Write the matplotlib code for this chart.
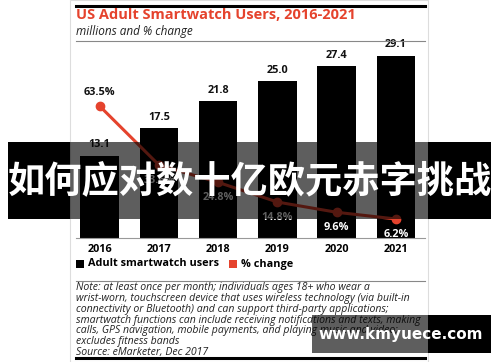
import matplotlib.pyplot as plt
import matplotlib.patches as mpatches

years = ['2016', '2017', '2018', '2019', '2020', '2021']
users = [13.1, 17.5, 21.8, 25.0, 27.4, 29.1]
pct_change = [63.5, 33.6, 24.8, 14.8, 9.6, 6.2]
pct_labels = ['63.5%', '33.6%', '24.8%', '14.8%', '9.6%', '6.2%']

title = 'US Adult Smartwatch Users, 2016-2021'
subtitle = 'millions and % change'
note = ('Note: at least once per month; individuals ages 18+ who wear a\n'
        'wrist-worn, touchscreen device that uses wireless technology (via built-in\n'
        'connectivity or Bluetooth) and can support third-party applications;\n'
        'smartwatch functions can include receiving notifications and texts, making\n'
        'calls, GPS navigation, mobile payments, and playing music and video;\n'
        'excludes fitness bands\n'
        'Source: eMarketer, Dec 2017')
banner = '如何应对数十亿欧元赤字挑战'
watermark = 'www.kmyuece.com'

RED = '#e5432d'
W, H = 500, 362
plt.rcParams['font.family'] = ['Open Sans', 'DejaVu Sans']


def fx(x):
    return x / W


def fy(y):
    return 1 - y / H


fig = plt.figure(figsize=(5, 3.62), dpi=100)
fig.patch.set_facecolor('white')

# card edges
fig.add_artist(mpatches.Rectangle((fx(70), 0), fx(358), 1, transform=fig.transFigure,
                                  facecolor='white', edgecolor='#dddddd', lw=0.8, zorder=-5))
# rules
fig.add_artist(plt.Line2D([fx(76), fx(425)], [fy(6), fy(6)], color='black', lw=2.2))
fig.add_artist(plt.Line2D([fx(76), fx(425)], [fy(41), fy(41)], color='#888888', lw=0.8))
fig.add_artist(plt.Line2D([fx(76), fx(425)], [fy(281), fy(281)], color='#888888', lw=0.8))
fig.add_artist(plt.Line2D([fx(76), fx(425)], [fy(358), fy(358)], color='black', lw=2.2))

fig.text(fx(76), fy(15), title, color=RED, fontsize=10.5, fontweight='bold', va='center')
fig.text(fx(76), fy(31), subtitle, color='#222222', fontsize=8.5, style='italic', va='center')

# main chart
ax = fig.add_axes([fx(76), fy(238), fx(425) - fx(76), (238 - 50) / H])
ax.patch.set_visible(False)
x = list(range(len(years)))
bars = ax.bar(x, users, width=0.65, color='black', zorder=2)
for xi, v in zip(x, users):
    ax.annotate(f'{v}', (xi, v), xytext=(0, 4), textcoords='offset points',
                ha='center', va='bottom', fontsize=7.8, fontweight='bold', color='#111111')
ax.set_xlim(-0.4, 5.49)
ax.set_ylim(0, 30.0)
ax.set_xticks(x)
ax.set_xticklabels(years, fontsize=7.8, fontweight='bold')
ax.tick_params(axis='x', length=0, pad=4)
ax.set_yticks([])
for s in ['top', 'right', 'left']:
    ax.spines[s].set_visible(False)
ax.spines['bottom'].set_color('#999999')
ax.spines['bottom'].set_linewidth(0.8)

ax2 = ax.twinx()
ax2.plot(x, pct_change, color=RED, lw=2.2, marker='o', markersize=6, zorder=3)
ax2.set_ylim(-3.45, 92.0)
ax2.axis('off')
for i, (v, lab) in enumerate(zip(pct_change, pct_labels)):
    if i == 0:
        ax2.annotate(lab, (i, v), xytext=(0, 6), textcoords='offset points',
                     ha='center', va='bottom', fontsize=7.8, fontweight='bold', color='#111111')
    else:
        ax2.annotate(lab, (i, v), xytext=(0, -7), textcoords='offset points',
                     ha='center', va='top', fontsize=7.8, fontweight='bold', color='white')

# legend
fig.add_artist(mpatches.Rectangle((fx(76), fy(268)), 8 / W, 8 / H, transform=fig.transFigure,
                                  facecolor='black'))
fig.text(fx(88), fy(264), 'Adult smartwatch users', fontsize=7.8, fontweight='bold', va='center')
fig.add_artist(mpatches.Rectangle((fx(229), fy(268)), 8 / W, 8 / H, transform=fig.transFigure,
                                  facecolor=RED))
fig.text(fx(241), fy(264), '% change', fontsize=7.8, fontweight='bold', va='center')

fig.text(fx(76), fy(282), note, fontsize=7.6, style='italic', color='#222222', va='top',
         linespacing=0.98)

# banner overlay
for x0, x1, a in [(8, 70, 1.0), (70, 428, 0.63), (428, 491, 1.0)]:
    fig.add_artist(mpatches.Rectangle((fx(x0), fy(219)), (x1 - x0) / W, (219 - 142) / H,
                                      transform=fig.transFigure, facecolor='black', alpha=a,
                                      lw=0, zorder=10))
fig.text(fx(250), fy(182), banner, fontsize=26.8, fontweight='bold', color='white',
         ha='center', va='center', family=['Noto Sans CJK SC', 'DejaVu Sans'], zorder=11)

# watermark overlay
for x0, x1, a in [(312, 428, 0.63), (428, 491, 1.0)]:
    fig.add_artist(mpatches.Rectangle((fx(x0), fy(353)), (x1 - x0) / W, (353 - 315) / H,
                                      transform=fig.transFigure, facecolor='black', alpha=a,
                                      lw=0, zorder=10))
fig.text(fx(401), fy(334), watermark, fontsize=11, fontweight='bold', color='white',
         ha='center', va='center', family=['DejaVu Sans'], zorder=11)

fig.savefig('out.png', dpi=100)
